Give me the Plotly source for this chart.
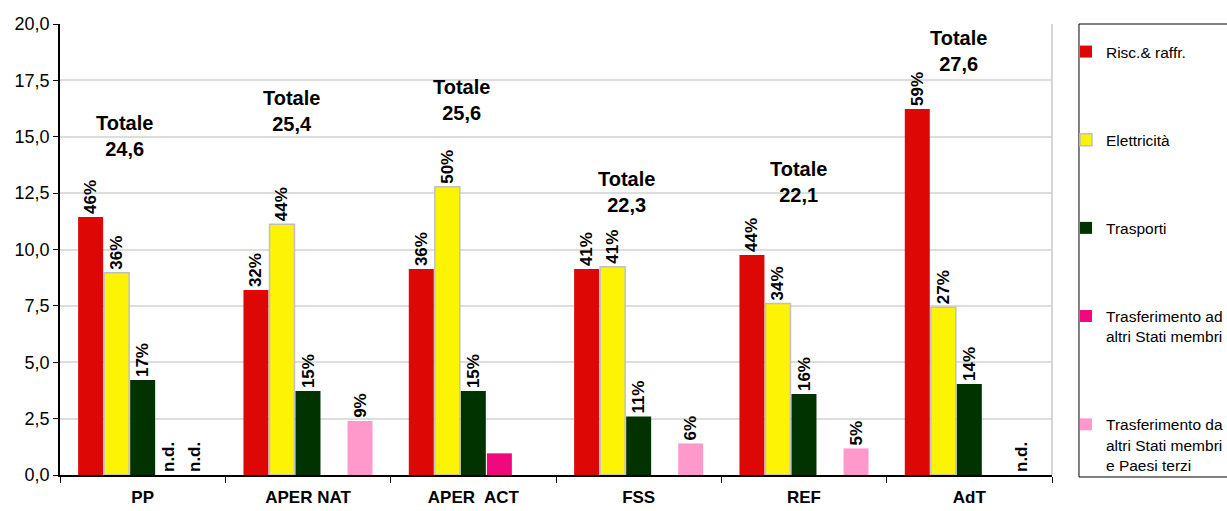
import plotly.graph_objects as go

# Categories (scenarios) and values in Mtep per sector
categories = ["PP", "APER NAT", "APER\u00a0 ACT", "FSS", "REF", "AdT"]
risc = [11.44, 8.20, 9.13, 9.13, 9.76, 16.23]
elettricita = [8.97, 11.12, 12.78, 9.24, 7.61, 7.44]
trasporti = [4.21, 3.72, 3.72, 2.59, 3.59, 4.04]
trasf_ad = [0, None, 0.96, None, None, None]
trasf_da = [0, 2.40, None, 1.40, 1.18, 0]

# Share labels shown above each bar
risc_lbl = ["46%", "32%", "36%", "41%", "44%", "59%"]
elettricita_lbl = ["36%", "44%", "50%", "41%", "34%", "27%"]
trasporti_lbl = ["17%", "15%", "15%", "11%", "16%", "14%"]
trasf_ad_lbl = ["n.d.", "", "", "", "", ""]
trasf_da_lbl = ["n.d.", "9%", "", "6%", "5%", "n.d."]

totali = [24.6, 25.4, 25.6, 22.3, 22.1, 27.6]

# Placement of the "Totale" captions (y in axis units, x shift in px)
totale_y = [15.03, 16.14, 16.63, 12.55, 12.99, 18.8]
totale_dx = [-18, -17, -12, -12, -6, -11]

FONT = "Arial, Liberation Sans, sans-serif"

series = [
    ("Risc.& raffr.", risc, risc_lbl, "#DD0806", None),
    ("Elettricità", elettricita, elettricita_lbl, "#FCF305", "#C0C0C0"),
    ("Trasporti", trasporti, trasporti_lbl, "#003300", None),
    ("Trasferimento ad<br>altri Stati membri", trasf_ad, trasf_ad_lbl, "#F0087F", None),
    ("Trasferimento da<br>altri Stati membri<br>e Paesi terzi", trasf_da, trasf_da_lbl, "#FF99CC", None),
]

fig = go.Figure()
for i, (name, vals, lbls, color, line) in enumerate(series):
    fig.add_trace(go.Bar(
        x=categories, y=vals, name=name, text=lbls,
        texttemplate="<b>%{text}</b>", textposition="outside",
        textangle=-90, constraintext="none", cliponaxis=False,
        textfont=dict(family=FONT, size=17, color="black"),
        marker=dict(color=color,
                    line=dict(color=line if line else color, width=1.5 if line else 0)),
        legendgroup=f"g{i}",
        hoverinfo="skip",
    ))

for cat, tot, ty, dx in zip(categories, totali, totale_y, totale_dx):
    fig.add_annotation(
        x=cat, y=ty, xshift=dx, showarrow=False,
        text="<b>Totale<br>" + f"{tot:.1f}".replace(".", ",") + "</b>",
        font=dict(family=FONT, size=20, color="black"),
        align="center",
    )

# Legend frame
fig.add_shape(type="rect", xref="paper", yref="paper",
              x0=1.0272, x1=1.4, y0=-0.0044, y1=1.0,
              line=dict(color="black", width=1), fillcolor="rgba(0,0,0,0)")
# Plot-area right border
fig.add_shape(type="line", xref="paper", yref="paper",
              x0=1, x1=1, y0=0, y1=1, line=dict(color="#C8C8C8", width=1.5))

fig.update_layout(
    width=1227, height=511,
    margin=dict(l=60, r=175, t=24, b=36, autoexpand=False),
    paper_bgcolor="white", plot_bgcolor="white",
    separators=",.",
    barmode="group", bargap=0.213, bargroupgap=0.04,
    font=dict(family=FONT, size=17, color="black"),
    showlegend=True,
    legend=dict(x=1.0141, xanchor="left", y=0.9756, yanchor="top",
                font=dict(family=FONT, size=15.5), tracegroupgap=65,
                borderwidth=0, bgcolor="rgba(0,0,0,0)", itemwidth=30,
                valign="top", traceorder="grouped"),
    xaxis=dict(showline=True, linecolor="black", linewidth=1.5,
               ticks="outside", tickson="boundaries", ticklen=6, tickcolor="black",
               ticklabelstandoff=6,
               tickfont=dict(family=FONT, size=17, weight="bold"),
               showgrid=False, fixedrange=True),
    yaxis=dict(range=[0, 20], dtick=2.5, tickformat=".1f",
               showline=True, linecolor="black", linewidth=1.5,
               ticks="outside", ticklen=5, tickcolor="black",
               tickfont=dict(family=FONT, size=18),
               gridcolor="#DDDDDD", gridwidth=1.5, zeroline=False, fixedrange=True),
)

fig.write_html("out.html")
